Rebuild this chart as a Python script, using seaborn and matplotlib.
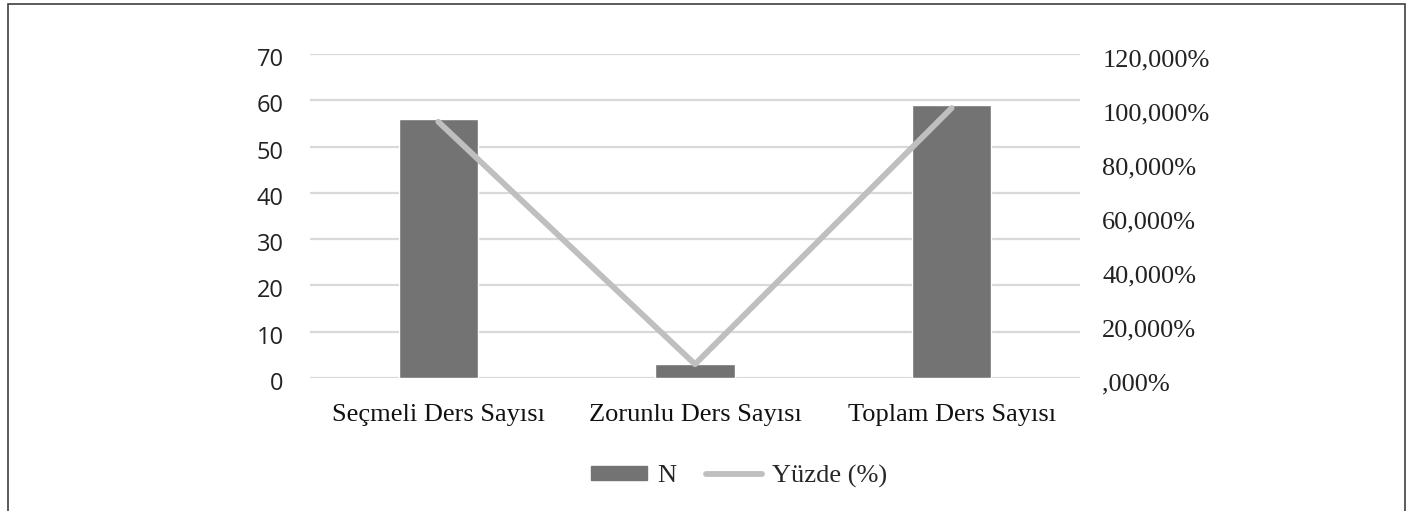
import matplotlib
matplotlib.use("Agg")
import matplotlib.pyplot as plt
import matplotlib.patches as mpatches
import matplotlib.transforms as mtransforms
from matplotlib.lines import Line2D
import seaborn as sns

# chart data
categories = ["Seçmeli Ders Sayısı", "Zorunlu Ders Sayısı", "Toplam Ders Sayısı"]
n_values = [56, 3, 59]
pct_values = [94.9, 5.1, 100.0]
left_ticks = [0, 10, 20, 30, 40, 50, 60, 70]
right_ticks = [0, 20, 40, 60, 80, 100, 120]
right_labels = [",000%", "20,000%", "40,000%", "60,000%", "80,000%", "100,000%", "120,000%"]

sns.set_theme(style="white")
plt.rcParams["font.family"] = ["Open Sans", "DejaVu Sans"]
serif = ["Liberation Serif", "DejaVu Serif"]

bar_col = "#737373"
line_col = "#BFBFBF"
grid_col = "#D9D9D9"

fig = plt.figure(figsize=(14.1, 5.11), dpi=100)
ax = fig.add_axes([310/1410, 133/511, 770/1410, 324/511])

sns.barplot(x=categories, y=n_values, color=bar_col, width=0.31,
            saturation=1, ax=ax, zorder=2)
ax.set_ylim(0, 70)
ax.set_yticks(left_ticks)
ax.set_yticklabels([str(t) for t in left_ticks], fontsize=17, color="#222222")
ax.yaxis.grid(True, color=grid_col, linewidth=1.6, zorder=0)
ax.set_axisbelow(True)
ax.tick_params(axis="y", length=0, pad=19)
ax.tick_params(axis="x", length=0, pad=19)
for lab in ax.get_xticklabels():
    lab.set_fontfamily(serif)
    lab.set_fontsize(19)
    lab.set_color("#111111")
ax.set_xlabel("")
ax.set_ylabel("")
sns.despine(ax=ax, left=True, bottom=True)
shift_l = mtransforms.ScaledTranslation(0, -3/100, fig.dpi_scale_trans)
for lab in ax.get_yticklabels():
    lab.set_transform(lab.get_transform() + shift_l)

ax2 = ax.twinx()
sns.pointplot(x=categories, y=pct_values, color=line_col, markers="",
              linestyles="-", errorbar=None, ax=ax2)
for ln in ax2.lines:
    ln.set_linewidth(4.2)
    ln.set_solid_capstyle("round")
    ln.set_solid_joinstyle("round")
ax2.set_ylim(0, 120)
ax2.set_yticks(right_ticks)
ax2.set_yticklabels(right_labels, fontfamily=serif, fontsize=19, color="#222222")
ax2.tick_params(axis="y", length=0, pad=16)
shift = mtransforms.ScaledTranslation(0, -4/100, fig.dpi_scale_trans)
for lab in ax2.get_yticklabels():
    lab.set_transform(lab.get_transform() + shift)
ax2.set_ylabel("")
ax2.grid(False)
for s in ax2.spines.values():
    s.set_visible(False)
ax.set_xlim(-0.5, 2.5)
ax2.set_xlim(-0.5, 2.5)

handles = [mpatches.Patch(color=bar_col),
           Line2D([0], [0], color=line_col, linewidth=4.2)]
fig.legend(handles, ["N", "Yüzde (%)"], loc="center",
           bbox_to_anchor=(739/1410, 1 - 476/511), ncol=2, frameon=False,
           prop={"family": serif, "size": 19}, handlelength=2.15,
           handleheight=0.42, handletextpad=0.38, columnspacing=1.1)

# outer frame
fig.patches.append(mpatches.Rectangle((8/1410, -0.05), 1397/1410, 1.05 - 4/511,
                                      transform=fig.transFigure, fill=False,
                                      edgecolor="#404040", linewidth=1.2))

fig.savefig("out.png", dpi=100)
